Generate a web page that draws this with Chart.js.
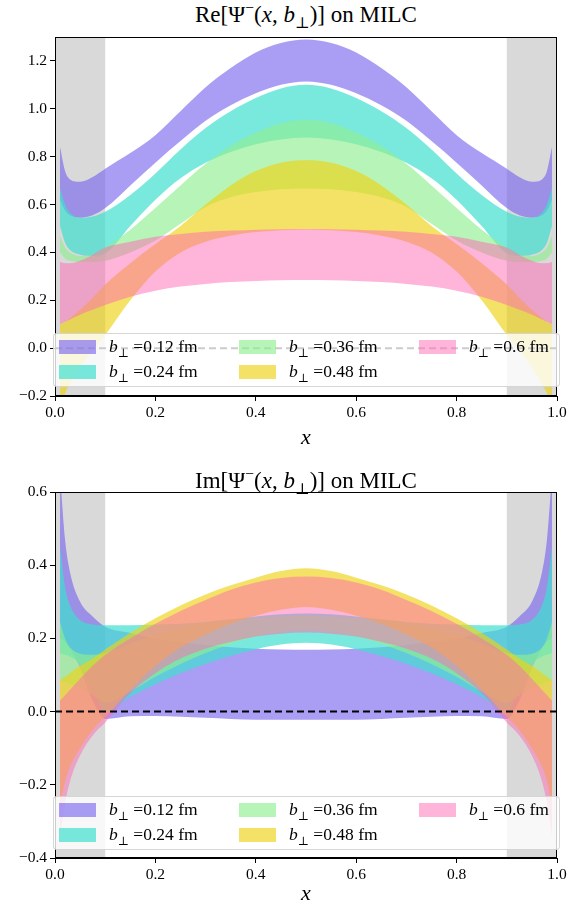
<!DOCTYPE html>
<html>
<head>
<meta charset="utf-8">
<script src="https://cdn.jsdelivr.net/npm/chart.js@4/dist/chart.umd.min.js"></script>
<style>
  body { margin: 0; background: #fff; }
  #wrap { position: relative; width: 576px; height: 907px; font-family: "Liberation Serif", "DejaVu Serif", serif; color: #000; }
  canvas { position: absolute; left: 0; }
  .title { position: absolute; left: 55px; width: 502px; text-align: center; font-size: 23px; line-height: 28px; white-space: nowrap; }
  .xlab { position: absolute; left: 55px; width: 502px; text-align: center; font-size: 22px; font-style: italic; line-height: 24px; }
  sup, sub { font-size: 68%; line-height: 0; }
  .legend { position: absolute; left: 53px; width: 507px; height: 54px; background: rgba(255,255,255,0.8); border: 1px solid rgba(204,204,204,0.8); border-radius: 4px; box-sizing: border-box; }
  .item { position: absolute; height: 14px; font-size: 17.5px; white-space: nowrap; }
  .patch { position: absolute; left: 0; top: 0; width: 37px; height: 14px; }
  .item span.txt { position: absolute; left: 50px; top: -5px; line-height: 22px; }
</style>
</head>
<body>
<div id="wrap">
  <div class="title" style="top:1px">Re[&Psi;<sup>&minus;</sup>(<i>x</i>, <i>b</i><sub>&perp;</sub>)] on MILC</div>
  <canvas id="re" width="576" height="455" style="top:0"></canvas>
  <div class="xlab" style="top:425px">x</div>
  <div class="legend" id="legRe" style="top:333px"></div>

  <div class="title" style="top:467px">Im[&Psi;<sup>&minus;</sup>(<i>x</i>, <i>b</i><sub>&perp;</sub>)] on MILC</div>
  <canvas id="im" width="576" height="452" style="top:455px"></canvas>
  <div class="xlab" style="top:881px">x</div>
  <div class="legend" id="legIm" style="top:796px"></div>
</div>
<script>
// x grid of the curves
const xs = [0.01, 0.02, 0.03, 0.05, 0.075, 0.1, 0.15, 0.2, 0.25, 0.3, 0.35, 0.4, 0.45, 0.5,
            0.55, 0.6, 0.65, 0.7, 0.75, 0.8, 0.85, 0.9, 0.925, 0.95, 0.97, 0.98, 0.99];

const bLabels = ['0.12', '0.24', '0.36', '0.48', '0.6'];
const bColors = ['rgba(123,104,238,0.65)', 'rgba(64,224,208,0.7)', 'rgba(144,238,144,0.65)',
                 'rgba(238,210,20,0.65)', 'rgba(255,105,180,0.5)'];

// Re part, upper / lower edge of each band
const reHi012 = [0.84, 0.74, 0.705, 0.695, 0.715, 0.75, 0.815, 0.89, 0.99, 1.09, 1.17, 1.235, 1.275, 1.29,
                 1.275, 1.235, 1.17, 1.09, 0.99, 0.89, 0.815, 0.75, 0.715, 0.695, 0.705, 0.74, 0.84];
const reLo012 = [0.62, 0.575, 0.555, 0.545, 0.555, 0.585, 0.68, 0.775, 0.865, 0.95, 1.015, 1.065, 1.1, 1.114,
                 1.1, 1.065, 1.015, 0.95, 0.865, 0.775, 0.68, 0.585, 0.555, 0.545, 0.555, 0.575, 0.62];
const reHi024 = [0.67, 0.6, 0.565, 0.545, 0.55, 0.57, 0.64, 0.73, 0.83, 0.92, 0.99, 1.045, 1.085, 1.1,
                 1.085, 1.045, 0.99, 0.92, 0.83, 0.73, 0.64, 0.57, 0.55, 0.545, 0.565, 0.6, 0.67];
const reLo024 = [0.51, 0.44, 0.41, 0.39, 0.385, 0.395, 0.51, 0.62, 0.71, 0.775, 0.82, 0.852, 0.872, 0.88,
                 0.872, 0.852, 0.82, 0.775, 0.71, 0.62, 0.51, 0.395, 0.385, 0.39, 0.41, 0.44, 0.51];
const reHi036 = [0.47, 0.42, 0.40, 0.385, 0.39, 0.42, 0.495, 0.585, 0.68, 0.77, 0.845, 0.9, 0.94, 0.953,
                 0.94, 0.9, 0.845, 0.77, 0.68, 0.585, 0.495, 0.42, 0.39, 0.385, 0.40, 0.42, 0.47];
const reLo036 = [0.40, 0.375, 0.365, 0.36, 0.36, 0.365, 0.40, 0.45, 0.52, 0.59, 0.63, 0.652, 0.664, 0.667,
                 0.664, 0.652, 0.63, 0.59, 0.52, 0.45, 0.40, 0.365, 0.36, 0.36, 0.365, 0.375, 0.40];
const reHi048 = [0.10, 0.11, 0.125, 0.16, 0.21, 0.266, 0.355, 0.435, 0.51, 0.6, 0.68, 0.74, 0.775, 0.785,
                 0.775, 0.74, 0.68, 0.6, 0.51, 0.435, 0.355, 0.266, 0.21, 0.16, 0.125, 0.11, 0.10];
const reLo048 = [-0.25, -0.19, -0.15, -0.08, -0.01, 0.055, 0.2, 0.32, 0.4, 0.445, 0.47, 0.485, 0.493, 0.496,
                 0.493, 0.485, 0.47, 0.445, 0.4, 0.32, 0.2, 0.055, -0.01, -0.08, -0.15, -0.19, -0.25];
const reHi06 = [0.36, 0.355, 0.355, 0.365, 0.39, 0.42, 0.445, 0.465, 0.477, 0.486, 0.491, 0.495, 0.497, 0.498,
                0.497, 0.495, 0.491, 0.486, 0.477, 0.465, 0.445, 0.42, 0.39, 0.365, 0.355, 0.355, 0.36];
const reLo06 = [0.10, 0.11, 0.12, 0.14, 0.16, 0.18, 0.215, 0.24, 0.257, 0.268, 0.276, 0.281, 0.284, 0.285,
                0.284, 0.281, 0.276, 0.268, 0.257, 0.24, 0.215, 0.18, 0.16, 0.14, 0.12, 0.11, 0.10];

// Im part
const imHi012 = [0.65, 0.47, 0.38, 0.30, 0.26, 0.232, 0.215, 0.2, 0.19, 0.182, 0.176, 0.172, 0.17, 0.169,
                 0.17, 0.172, 0.176, 0.182, 0.19, 0.2, 0.215, 0.232, 0.26, 0.30, 0.38, 0.47, 0.65];
const imLo012 = [0.20, 0.19, 0.17, 0.12, 0.03, -0.02, -0.013, -0.012, -0.014, -0.017, -0.02, -0.022, -0.022, -0.022,
                 -0.022, -0.022, -0.02, -0.017, -0.014, -0.012, -0.013, -0.02, 0.03, 0.12, 0.17, 0.19, 0.20];
const imHi024 = [0.45, 0.34, 0.29, 0.25, 0.238, 0.236, 0.236, 0.238, 0.24, 0.245, 0.252, 0.26, 0.266, 0.268,
                 0.266, 0.26, 0.252, 0.245, 0.24, 0.238, 0.236, 0.236, 0.238, 0.25, 0.29, 0.34, 0.45];
const imLo024 = [0.16, 0.155, 0.15, 0.13, 0.06, 0.0, 0.04, 0.075, 0.105, 0.13, 0.152, 0.17, 0.183, 0.188,
                 0.183, 0.17, 0.152, 0.13, 0.105, 0.075, 0.04, 0.0, 0.06, 0.13, 0.15, 0.155, 0.16];
const imHi036 = [0.245, 0.2, 0.175, 0.158, 0.155, 0.16, 0.185, 0.21, 0.228, 0.24, 0.25, 0.256, 0.26, 0.262,
                 0.26, 0.256, 0.25, 0.24, 0.228, 0.21, 0.185, 0.16, 0.155, 0.158, 0.175, 0.2, 0.245];
const imLo036 = [0.085, 0.08, 0.075, 0.065, 0.045, 0.025, 0.055, 0.095, 0.13, 0.16, 0.185, 0.205, 0.217, 0.222,
                 0.217, 0.205, 0.185, 0.16, 0.13, 0.095, 0.055, 0.025, 0.045, 0.065, 0.075, 0.08, 0.085];
const imHi048 = [0.085, 0.095, 0.105, 0.125, 0.145, 0.17, 0.215, 0.255, 0.29, 0.32, 0.345, 0.366, 0.384, 0.392,
                 0.384, 0.366, 0.345, 0.32, 0.29, 0.255, 0.215, 0.17, 0.145, 0.125, 0.105, 0.095, 0.085];
const imLo048 = [-0.26, -0.19, -0.15, -0.1, -0.05, -0.015, 0.06, 0.125, 0.175, 0.21, 0.24, 0.262, 0.278, 0.286,
                 0.278, 0.262, 0.24, 0.21, 0.175, 0.125, 0.06, -0.015, -0.05, -0.1, -0.15, -0.19, -0.26];
const imHi06 = [0.03, 0.045, 0.06, 0.09, 0.125, 0.155, 0.2, 0.24, 0.275, 0.305, 0.333, 0.353, 0.365, 0.369,
                0.365, 0.353, 0.333, 0.305, 0.275, 0.24, 0.2, 0.155, 0.125, 0.09, 0.06, 0.045, 0.03];
const imLo06 = [-0.34, -0.25, -0.19, -0.12, -0.065, -0.03, 0.05, 0.105, 0.145, 0.172, 0.19, 0.205, 0.213, 0.216,
                0.213, 0.205, 0.19, 0.172, 0.145, 0.105, 0.05, -0.03, -0.065, -0.12, -0.19, -0.25, -0.34];

const xTicks = [0, 0.2, 0.4, 0.6, 0.8, 1.0];
const reTicks = [-0.2, 0, 0.2, 0.4, 0.6, 0.8, 1.0, 1.2];
const imTicks = [-0.4, -0.2, 0, 0.2, 0.4, 0.6];
const greySpans = [[0, 0.1], [0.9, 1.0]];

const tickFont = { family: '"Liberation Serif", serif', size: 15.5 };
const fmt = v => (v < 0 ? '\u2212' : '') + Math.abs(v).toFixed(1);
const pts = ys => xs.map((x, i) => ({ x: x, y: ys[i] }));

// grey shaded edge regions and the axes box
const boxPlugin = {
  id: 'box',
  beforeDatasetsDraw(chart) {
    const { ctx, chartArea: a, scales } = chart;
    ctx.save();
    ctx.fillStyle = 'rgba(128,128,128,0.3)';
    greySpans.forEach(([x0, x1]) => {
      const p0 = scales.x.getPixelForValue(x0), p1 = scales.x.getPixelForValue(x1);
      ctx.fillRect(p0, a.top, p1 - p0, a.bottom - a.top);
    });
    ctx.restore();
  },
  afterDatasetsDraw(chart) {
    const { ctx, chartArea: a } = chart;
    ctx.save();
    ctx.strokeStyle = '#000';
    ctx.lineWidth = 1;
    ctx.strokeRect(Math.round(a.left) + 0.5, Math.round(a.top) + 0.5,
                   Math.round(a.right - a.left) - 1, Math.round(a.bottom - a.top) - 1);
    ctx.restore();
  }
};

function makeChart(id, bands, yMin, yMax, yTicks, padBottom) {
  const datasets = [];
  bands.forEach((b, i) => {
    const order = 10 - i;
    datasets.push({ label: 'b=' + bLabels[i], data: pts(b[0]), fill: '+1', backgroundColor: bColors[i],
                    borderWidth: 0, pointRadius: 0, cubicInterpolationMode: 'monotone', order: order });
    datasets.push({ label: '', data: pts(b[1]), fill: false, borderWidth: 0, pointRadius: 0,
                    cubicInterpolationMode: 'monotone', order: order });
  });
  // y = 0 reference line
  datasets.push({ label: 'zero', data: [{ x: 0, y: 0 }, { x: 1, y: 0 }], borderColor: '#000',
                  borderWidth: 2, borderDash: [7, 4], pointRadius: 0, fill: false, order: 0 });

  return new Chart(document.getElementById(id), {
    type: 'line',
    data: { datasets: datasets },
    options: {
      responsive: false,
      animation: false,
      devicePixelRatio: 1,
      layout: { padding: { left: 0, right: 19, top: 37, bottom: padBottom } },
      plugins: { legend: { display: false }, tooltip: { enabled: false } },
      scales: {
        x: {
          type: 'linear', min: 0, max: 1,
          afterBuildTicks: s => { s.ticks = xTicks.map(v => ({ value: v })); },
          afterFit: s => { s.height = 24; },
          ticks: { callback: fmt, font: tickFont, color: '#000', padding: 3, maxRotation: 0 },
          grid: { drawOnChartArea: false, tickLength: 5, color: '#000' },
          border: { color: '#000' }
        },
        y: {
          type: 'linear', min: yMin, max: yMax,
          afterBuildTicks: s => { s.ticks = yTicks.map(v => ({ value: v })); },
          afterFit: s => { s.width = 55; },
          ticks: { callback: fmt, font: tickFont, color: '#000', padding: 3 },
          grid: { drawOnChartArea: false, tickLength: 5, color: '#000' },
          border: { color: '#000' }
        }
      }
    },
    plugins: [boxPlugin]
  });
}

function makeLegend(id) {
  const el = document.getElementById(id);
  bLabels.forEach((lab, i) => {
    const col = Math.floor(i / 2), row = i % 2;
    const it = document.createElement('div');
    it.className = 'item';
    it.style.left = (5 + col * 180) + 'px';
    it.style.top = (6 + row * 24.5) + 'px';
    it.innerHTML = '<div class="patch" style="background:' + bColors[i] + '"></div>' +
                   '<span class="txt"><i>b</i><sub>&perp;</sub> =' + lab + ' fm</span>';
    el.appendChild(it);
  });
}

makeChart('re', [[reHi012, reLo012], [reHi024, reLo024], [reHi036, reLo036], [reHi048, reLo048], [reHi06, reLo06]],
          -0.2, 1.3, reTicks, 35);
makeChart('im', [[imHi012, imLo012], [imHi024, imLo024], [imHi036, imLo036], [imHi048, imLo048], [imHi06, imLo06]],
          -0.4, 0.6, imTicks, 452 - 403 - 24);
makeLegend('legRe');
makeLegend('legIm');
</script>
</body>
</html>
